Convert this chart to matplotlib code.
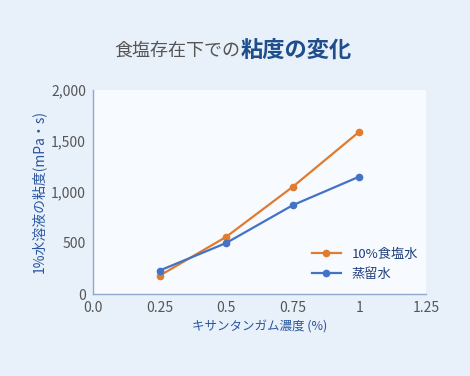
import matplotlib.pyplot as plt
from matplotlib.ticker import FuncFormatter

plt.rcParams['font.family'] = ['Noto Sans CJK JP', 'DejaVu Sans']

conc = [0.25, 0.5, 0.75, 1.0]
salt = [180, 560, 1050, 1590]
water = [230, 500, 870, 1150]
xticks = [0, 0.25, 0.5, 0.75, 1, 1.25]
xticklabels = ['0.0', '0.25', '0.5', '0.75', '1', '1.25']
yticks = [0, 500, 1000, 1500, 2000]

bg = '#e8f0fa'
fig = plt.figure(figsize=(4.7, 3.76), dpi=100, facecolor=bg)
ax = fig.add_axes([0.198, 0.218, 0.708, 0.543], facecolor='#f7fafe')

ax.plot(conc, salt, color='#e07b30', marker='o', markersize=4.5, linewidth=1.6, label='10%食塩水')
ax.plot(conc, water, color='#4472c4', marker='o', markersize=4.5, linewidth=1.6, label='蒸留水')

ax.set_xlim(0, 1.25)
ax.set_ylim(0, 2000)
ax.set_xticks(xticks)
ax.set_xticklabels(xticklabels)
ax.set_yticks(yticks)
ax.yaxis.set_major_formatter(FuncFormatter(lambda v, p: f'{int(v):,}'))
ax.tick_params(length=0, labelsize=10, colors='#555555', pad=5)
for s in ['top', 'right']:
    ax.spines[s].set_visible(False)
for s in ['left', 'bottom']:
    ax.spines[s].set_color('#8fa8cc')
    ax.spines[s].set_linewidth(1)

ax.set_xlabel('キサンタンガム濃度 (%)', color='#2a56a0', fontsize=9, labelpad=4)
ax.set_ylabel('1%水溶液の粘度(mPa・s)', color='#2a56a0', fontsize=10, labelpad=4)

leg = ax.legend(loc='lower right', frameon=False, fontsize=9.5, handlelength=2.2,
                bbox_to_anchor=(1.012, 0.008), labelspacing=0.5)
for t in leg.get_texts():
    t.set_color('#1f3f7a')

fig.text(0.512, 0.865, '食塩存在下での', ha='right', va='center', fontsize=13, color='#555555')
fig.text(0.512, 0.865, '粘度の変化', ha='left', va='center', fontsize=16, color='#1f4e8c', fontweight='bold')

fig.savefig('out.png', dpi=100, facecolor=bg)
